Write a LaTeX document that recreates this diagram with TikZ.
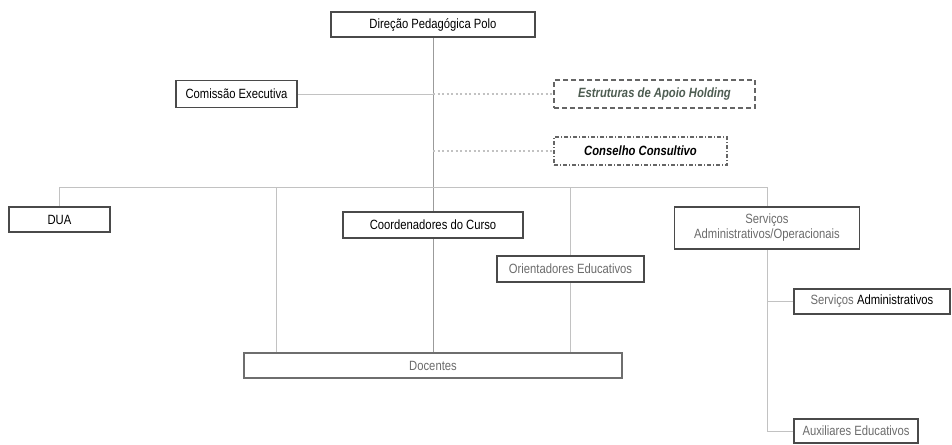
\documentclass[tikz,border=0pt]{standalone}
\usepackage{fontspec}
\setmainfont{Liberation Sans}[FakeStretch=0.84]
\usepackage{xcolor}
\usepackage{tikz}
\usetikzlibrary{backgrounds}
\definecolor{frame}{HTML}{4A4A4A}
\definecolor{wire}{HTML}{C2C2C2}
\definecolor{faded}{HTML}{6C6C6C}
\definecolor{holding}{HTML}{4E5D52}

\begin{document}
\begin{tikzpicture}[x=1pt,y=-1pt,
  every node/.style={font=\fontsize{13.4}{15}\selectfont},
  unit/.style={draw=frame,line width=1.2pt,fill=white,inner sep=0pt,align=center},
  support/.style={draw=frame!85,line width=1.1pt,fill=white,inner sep=0pt,
                  font=\fontsize{13.4}{15}\selectfont\bfseries\itshape},
  link/.style={draw=wire,line width=1pt},
  dotlink/.style={draw=wire,line width=1.2pt,dash pattern=on 2pt off 2.5pt}]
  \useasboundingbox (0,0) rectangle (952,444);
  % top of the chart
  \node[unit,minimum width=204pt,minimum height=25pt] (DP) at (433,24.5) {Direção Pedagógica Polo};
  \node[unit,minimum width=121pt,minimum height=27pt] (CE) at (236.5,94) {Comissão Executiva};
  \node[support,dash pattern=on 5pt off 3pt,text=holding,
        minimum width=201pt,minimum height=28pt] (EA) at (654.5,94) {Estruturas de Apoio Holding};
  \node[support,dash pattern=on 4pt off 2pt on 1pt off 2pt,
        minimum width=173pt,minimum height=28pt] (CC) at (640.5,151) {Conselho Consultivo};
  % second level
  \node[unit,minimum width=101pt,minimum height=25pt] (DU) at (59.5,219.5) {DUA};
  \node[unit,minimum width=180pt,minimum height=26pt] (CO) at (433,225) {Coordenadores do Curso};
  \node[unit,text=faded,minimum width=147pt,minimum height=26pt] (OE) at (570.5,269) {Orientadores Educativos};
  \node[unit,text=faded,minimum width=185pt,minimum height=42pt] (SAO) at (767,228)
       {Serviços\\Administrativos/Operacionais};
  \node[unit,minimum width=156pt,minimum height=25pt] (SA) at (872,301.5)
       {\textcolor{faded}{Serviços} Administrativos};
  \node[unit,text=faded,minimum width=124pt,minimum height=24pt] (AE) at (856,431) {Auxiliares Educativos};
  \node[unit,draw=frame!80,text=faded,minimum width=378pt,minimum height=25pt] (DO) at (433,365.5) {Docentes};
  \coordinate (bus) at (0,187);
  \coordinate (b1) at (276,187);
  \coordinate (b2) at (570,187);
  % connectors
  \begin{scope}[on background layer]
    \draw[link,draw=wire!80!black] (DP) -- (DO);
    \draw[link] (CE) -- (CE -| DP);
    \draw[dotlink] (CE -| DP) -- (EA);
    \draw[dotlink] (CC -| DP) -- (CC);
    \draw[link] (DU.north) |- (bus -| SAO) -- (SAO.north);
    \draw[link] (b1) -- (b1 |- DO.north);
    \draw[link] (b2) -- (b2 |- DO.north);
    \draw[link] (SAO.south) |- (AE.west);
    \draw[link] (SAO.south |- SA.west) -- (SA.west);
  \end{scope}
\end{tikzpicture}
\end{document}
